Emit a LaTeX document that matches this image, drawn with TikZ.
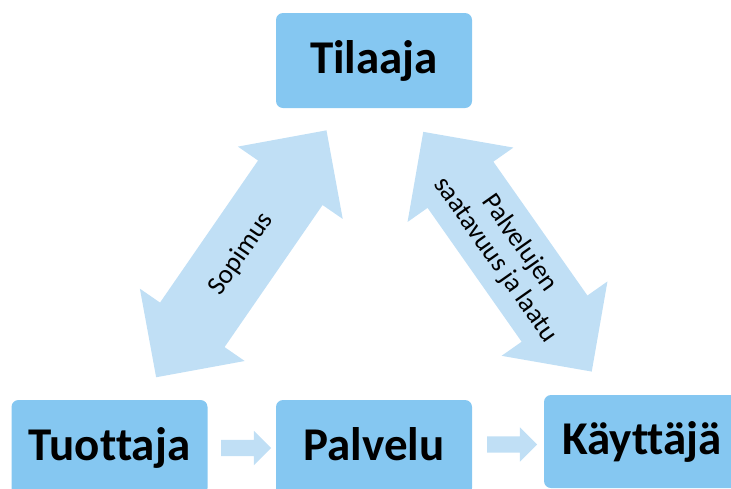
\documentclass[tikz,border=0pt]{standalone}
\usepackage{fontspec}
\setmainfont{Carlito}[Ligatures=NoCommon]
\usetikzlibrary{shapes.arrows}
\definecolor{boxblue}{RGB}{133,199,241}
\definecolor{arrowblue}{RGB}{192,223,245}

\begin{document}
\begin{tikzpicture}[x=1pt,y=-1pt,
  actor/.style={fill=boxblue,rounded corners=7pt,minimum width=196pt,minimum height=95pt,
    font=\fontsize{47}{50}\selectfont\bfseries,text height=34pt,text depth=8pt,inner sep=0pt},
  bigarrow/.style={double arrow,fill=arrowblue,double arrow head extend=24.5pt,
    inner xsep=0pt,inner ysep=39pt,minimum height=300pt},
  smallarrow/.style={single arrow,fill=arrowblue,single arrow head extend=9pt,
    inner xsep=0pt,inner ysep=8pt,minimum height=50pt},
  arrowtext/.style={font=\fontsize{27}{29}\selectfont,align=center}]
\useasboundingbox (0,0) rectangle (731,488);
\clip (0,0) rectangle (731,488);
%
\node[actor] (tilaaja) at (374,60.5) {Tilaaja};
\node[actor] (tuottaja) at (109.5,447.5) {Tuottaja};
\node[actor] (palvelu) at (374,447.5) {Palvelu};
\node[actor,minimum height=93pt] (kayttaja) at (642,441.5) {Käyttäjä};
%
\node[smallarrow] (t2p) at (242,448) {};
\node[smallarrow] (p2k) at (508,444.5) {};
%
\node[bigarrow,rotate=55.4] (sopimus) at (241.3,253.8) {};
\node[arrowtext,rotate=55.4] at (sopimus.center) {Sopimus};
\node[bigarrow,rotate=-54.9,inner ysep=40pt,minimum height=293pt] (laatu) at (507.5,251.7) {};
\node[arrowtext,rotate=-54.9] at (laatu.center) {Palvelujen\\saatavuus ja laatu};
\end{tikzpicture}
\end{document}
